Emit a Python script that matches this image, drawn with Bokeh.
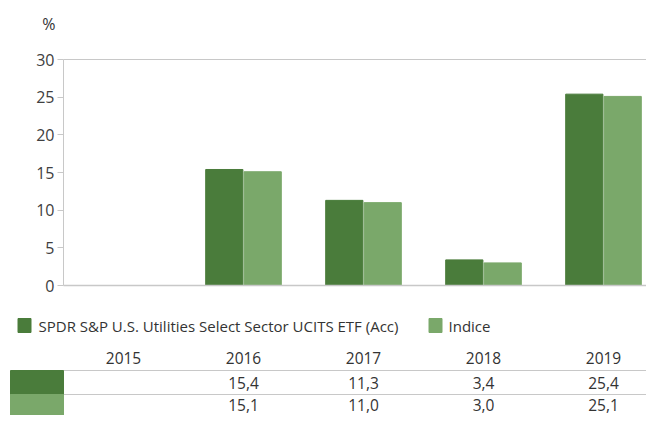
import math
from bokeh.plotting import figure
from bokeh.models import Range1d, FixedTicker, LinearAxis, ColumnDataSource
from bokeh.layouts import column
from bokeh.embed import file_html
from bokeh.resources import INLINE
from bokeh.core.properties import value
from bokeh.transform import dodge

# ---- data ----
years = ["2015", "2016", "2017", "2018", "2019"]
fund = [math.nan, 15.4, 11.3, 3.4, 25.4]
index_vals = [math.nan, 15.1, 11.0, 3.0, 25.1]
series = ["SPDR S&P U.S. Utilities Select Sector UCITS ETF (Acc)", "Indice"]
unit_label = ["%"]
colors = ["#4A7C3B", "#7AA86A"]
yticks = [0, 5, 10, 15, 20, 25, 30]

FONT = "Open Sans"
TXT = "#333333"
GRAY = "#c8c8c8"

def fmt(v):
    return "" if math.isnan(v) else f"{v:.1f}".replace(".", ",")

xs = list(range(len(years)))
src = ColumnDataSource(dict(x=xs, year=years, fund=fund, idx=index_vals,
                            fund_t=[fmt(v) for v in fund],
                            idx_t=[fmt(v) for v in index_vals]))

# layout geometry: category 0 centred at pixel 123, 120 px per category
def px2u(px):
    return (px - 123) / 120.0

W = 646
H_HEAD = 40
H_TOP = 298
H_ALL = 415

def blank(height, y0, y1):
    f = figure(width=W, height=height, x_range=Range1d(px2u(0), px2u(W)),
               y_range=Range1d(y1, y0), output_backend="svg",
               toolbar_location=None, min_border=0, x_axis_location=None,
               y_axis_location=None)
    f.frame_align = False
    f.xgrid.visible = False
    f.ygrid.visible = False
    f.outline_line_color = None
    return f

# ---- "%" unit header ----
p0 = blank(H_HEAD, 0, H_HEAD)
p0.text(x=[px2u(55)], y=[23], text=unit_label, text_align="right",
        text_baseline="middle", text_font=value(FONT), text_font_size="16px",
        text_color=TXT)

# ---- top chart ----
p = figure(width=W, height=H_TOP - H_HEAD, x_range=Range1d(px2u(63), px2u(W)),
           y_range=Range1d(0, 30), output_backend="svg", toolbar_location=None,
           min_border_left=63, min_border_right=0, min_border_top=59 - H_HEAD,
           min_border_bottom=H_TOP - 285)
p.frame_align = False

p.vbar(x=dodge("x", -0.16, range=p.x_range), top="fund", width=0.31,
       source=src, color=colors[0])
p.vbar(x=dodge("x", 0.16, range=p.x_range), top="idx", width=0.31,
       source=src, color=colors[1])

p.xgrid.visible = False
p.ygrid.visible = False
p.outline_line_color = None

ya = p.yaxis[0]
ya.ticker = FixedTicker(ticks=yticks)
ya.major_label_text_font = FONT
ya.major_label_text_font_size = "16px"
ya.major_label_text_color = "#404040"
ya.axis_line_color = GRAY
ya.major_tick_line_color = GRAY
ya.major_tick_out = 6
ya.major_tick_in = 0
ya.minor_tick_line_color = None
ya.major_label_standoff = 3

xa = p.xaxis[0]
xa.ticker = FixedTicker(ticks=[])
xa.major_tick_line_color = None
xa.minor_tick_line_color = None
xa.axis_line_color = GRAY
xa.axis_line_width = 1.5

top_ax = LinearAxis(ticker=FixedTicker(ticks=[]), major_tick_line_color=None,
                    minor_tick_line_color=None, axis_line_color=GRAY)
p.add_layout(top_ax, "above")

# ---- legend + table (y in page pixels) ----
p2 = blank(H_ALL - H_TOP, H_TOP, H_ALL)

LEG_Y = 325
p2.rect(x=[px2u(24), px2u(435)], y=[LEG_Y, LEG_Y], width=13 / 120, height=14,
        color=colors)
p2.text(x=[px2u(38), px2u(448)], y=[LEG_Y, LEG_Y], text=series,
        text_baseline="middle", text_align="left", text_font=value(FONT),
        text_font_size="15px", text_color=TXT)

HEAD_Y, LINE1, ROW1, LINE2, ROW2 = 357, 370, 382, 394, 404
TFS = "15.5px"
p2.text(x="x", y=HEAD_Y, text="year", source=src, text_align="center",
        text_baseline="middle", text_font=value(FONT), text_font_size=TFS,
        text_color=TXT)
p2.segment(x0=px2u(63), x1=px2u(W), y0=[LINE1, LINE2], y1=[LINE1, LINE2],
           line_color=GRAY, line_width=1.2)
p2.quad(left=px2u(10), right=px2u(63), top=[LINE1, LINE2],
        bottom=[LINE2, H_ALL], color=colors)
p2.text(x="x", y=ROW1, text="fund_t", source=src, text_align="center",
        text_baseline="middle", text_font=value(FONT), text_font_size=TFS,
        text_color=TXT)
p2.text(x="x", y=ROW2, text="idx_t", source=src, text_align="center",
        text_baseline="middle", text_font=value(FONT), text_font_size=TFS,
        text_color=TXT)

layout = column(p0, p, p2, spacing=0)
open("out.html", "w").write(file_html(layout, INLINE))
